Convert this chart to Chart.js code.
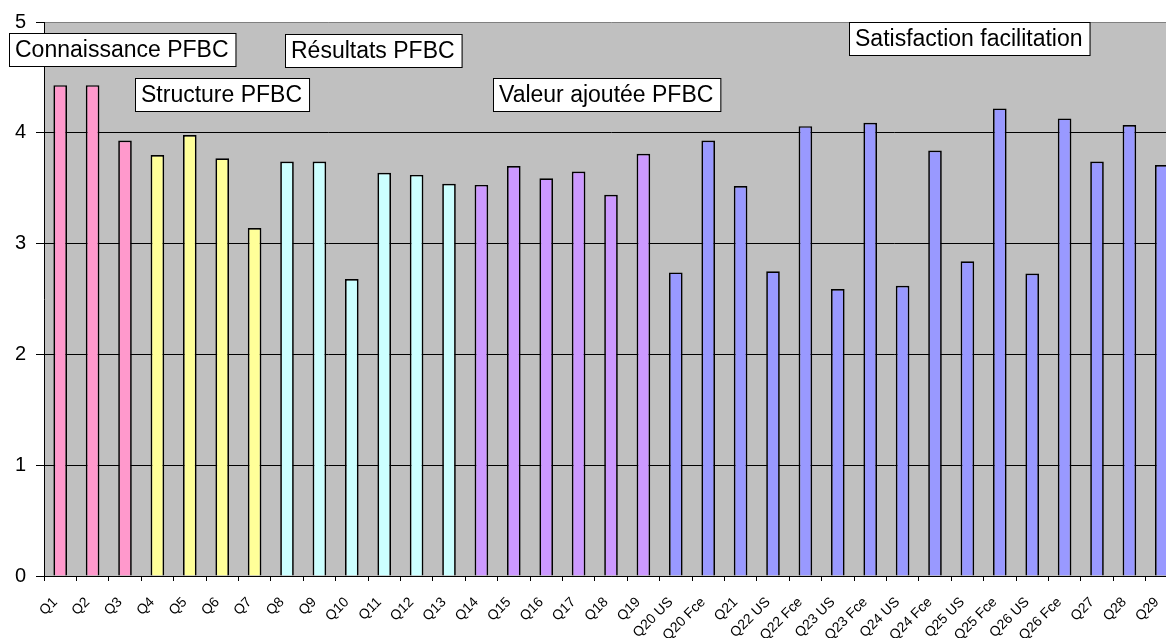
<!DOCTYPE html>
<html>
<head>
<meta charset="utf-8">
<script src="https://cdn.jsdelivr.net/npm/chart.js@4"></script>
<style>
    html, body { margin: 0; padding: 0; background: #fff; overflow: hidden; }
    #wrap { position: absolute; left: 0; top: 0; width: 1180px; height: 638px; }
</style>
</head>
<body>
<div id="wrap"><canvas id="survey-chart" width="1180" height="638"></canvas></div>
<script>
// Data
const questions = ['Q1', 'Q2', 'Q3', 'Q4', 'Q5', 'Q6', 'Q7', 'Q8', 'Q9', 'Q10',
    'Q11', 'Q12', 'Q13', 'Q14', 'Q15', 'Q16', 'Q17', 'Q18', 'Q19',
    'Q20 US', 'Q20 Fce', 'Q21', 'Q22 US', 'Q22 Fce', 'Q23 US', 'Q23 Fce',
    'Q24 US', 'Q24 Fce', 'Q25 US', 'Q25 Fce', 'Q26 US', 'Q26 Fce', 'Q27', 'Q28', 'Q29'];
const scores = [4.43, 4.43, 3.93, 3.80, 3.98, 3.77, 3.14, 3.74, 3.74, 2.68,
    3.64, 3.62, 3.54, 3.53, 3.70, 3.59, 3.65, 3.44, 3.81,
    2.74, 3.93, 3.52, 2.75, 4.06, 2.59, 4.09,
    2.62, 3.84, 2.84, 4.22, 2.73, 4.13, 3.74, 4.07, 3.71];
// which theme each question belongs to
const themeOf = [0, 0, 0, 1, 1, 1, 1, 2, 2, 2, 2, 2, 2, 3, 3, 3, 3, 3, 3,
    4, 4, 4, 4, 4, 4, 4, 4, 4, 4, 4, 4, 4, 4, 4, 4];
const themes = ['Connaissance PFBC', 'Structure PFBC', 'Résultats PFBC', 'Valeur ajoutée PFBC', 'Satisfaction facilitation'];
const yTicks = [0, 1, 2, 3, 4, 5];

// Styles
const themeColors = ['#FF99CC', '#FFFF99', '#CCFFFF', '#CC99FF', '#9999FF'];
// text box placement (px from canvas top-left) for each theme title
const themeBoxPos = [[9, 33], [135, 78], [285, 34], [493, 78], [849, 22]];
const FONT = '"Liberation Sans", Arial, sans-serif';

// Plugin: grey plot background
const plotBackground = {
    id: 'plotBackground',
    beforeDraw(chart) {
        const { ctx, chartArea: a } = chart;
        ctx.save();
        ctx.fillStyle = '#C0C0C0';
        ctx.fillRect(a.left, a.top, a.right - a.left, a.bottom - a.top);
        ctx.restore();
    }
};

// Plugin: theme title boxes
const themeBoxes = {
    id: 'themeBoxes',
    afterDraw(chart) {
        const ctx = chart.ctx;
        ctx.save();
        ctx.font = '23px ' + FONT;
        ctx.textBaseline = 'middle';
        themes.forEach((t, i) => {
            const [x, y] = themeBoxPos[i];
            const w = ctx.measureText(t).width + 13;
            const h = 33;
            ctx.fillStyle = '#fff';
            ctx.fillRect(x, y, w, h);
            ctx.strokeStyle = '#000';
            ctx.lineWidth = 1;
            ctx.strokeRect(x + 0.5, y + 0.5, w, h);
            ctx.fillStyle = '#000';
            ctx.fillText(t, x + 6, y + h / 2 + 1);
        });
        ctx.restore();
    }
};

const surveyChart = new Chart(document.getElementById('survey-chart'), {
    type: 'bar',
    data: {
        labels: questions,
        datasets: [{
            data: scores,
            backgroundColor: themeOf.map(g => themeColors[g]),
            borderColor: '#000',
            borderWidth: 1.7,
            borderSkipped: 'bottom',
            categoryPercentage: 1,
            barPercentage: 0.42
        }]
    },
    options: {
        responsive: false,
        animation: false,
        layout: { padding: { top: 21, right: 2, left: 0, bottom: 0 } },
        plugins: {
            legend: { display: false },
            tooltip: { enabled: false }
        },
        scales: {
            x: {
                offset: true,
                grid: {
                    offset: true,
                    drawOnChartArea: false,
                    drawTicks: true,
                    tickLength: 5,
                    tickColor: '#000'
                },
                border: { color: '#000', width: 1 },
                ticks: {
                    autoSkip: false,
                    minRotation: 45,
                    maxRotation: 45,
                    padding: 13,
                    labelOffset: -5,
                    color: '#000',
                    font: { family: FONT, size: 14 }
                },
                afterFit(scale) {
                    scale.height = 62;
                    scale.paddingLeft = 0;
                    scale.paddingRight = 0;
                }
            },
            y: {
                min: 0,
                max: 5,
                afterBuildTicks(scale) { scale.ticks = yTicks.map(v => ({ value: v })); },
                grid: {
                    color: ctx => ctx.tick && ctx.tick.value === 5 ? '#808080' : '#000',
                    tickColor: '#000',
                    tickLength: 8,
                    lineWidth: 1
                },
                border: { color: '#000', width: 1 },
                ticks: {
                    padding: 10,
                    color: '#000',
                    font: { family: FONT, size: 20 }
                },
                afterFit(scale) { scale.width = 44; }
            }
        }
    },
    plugins: [plotBackground, themeBoxes]
});
</script>
</body>
</html>
